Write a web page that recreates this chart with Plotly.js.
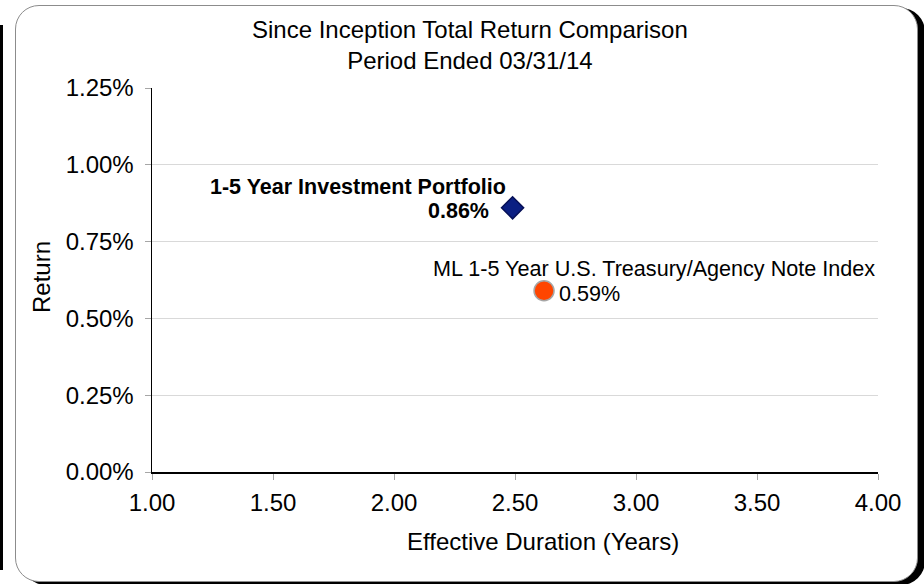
<!DOCTYPE html>
<html>
<head>
<meta charset="utf-8">
<script src="https://cdn.plot.ly/plotly-3.0.1.min.js"></script>
<style>
    body { margin: 0; background: #fff; }
    #wrap { position: relative; width: 924px; height: 584px; overflow: hidden; }
    #edge { position: absolute; left: 0; top: 25px; width: 3px; height: 545px; background: #000; }
    #frame {
        position: absolute; left: 15px; top: 5px; width: 901px; height: 575px;
        border: 1px solid #8c8c8c; border-radius: 24px; background: #fff;
        box-shadow: 7px 3px 0 0 #000;
    }
    #chart { position: absolute; left: 0; top: 0; width: 924px; height: 584px; }
</style>
</head>
<body>
<div id="wrap">
    <div id="edge"></div>
    <div id="frame"></div>
    <div id="chart"></div>
</div>
<script>
// Data
const seriesNames = ['1-5 Year Investment Portfolio', 'ML 1-5 Year U.S. Treasury/Agency Note Index'];
const durations = [2.49, 2.62]; // years
const returns = [0.0086, 0.0059];
const markerSymbols = ['diamond', 'circle'];
const markerColors = ['#0b1f82', '#ff4500'];
const titleLines = ['Since Inception Total Return Comparison', 'Period Ended 03/31/14'];
const xTitle = 'Effective Duration (Years)';
const yTitle = 'Return';

const FONT = 'Arial, "Liberation Sans", sans-serif';
const pct = v => (v * 100).toFixed(2) + '%';

// One trace per series
let data = seriesNames.map((name, i) => ({
    x: [durations[i]],
    y: [returns[i]],
    name: name,
    type: 'scatter',
    mode: 'markers',
    marker: {
        symbol: markerSymbols[i],
        size: i === 0 ? 17 : 20,
        color: markerColors[i],
        line: {color: i === 0 ? '#061057' : '#a6a6a6', width: 1.5}
    },
    showlegend: false
}));

let annotations = [
    // chart title, two lines
    {xref: 'paper', yref: 'paper', x: (470 - 152) / 726, y: (472 - 45) / 384,
        text: titleLines.join('<br>'), font: {size: 24}},
    // axis titles
    {xref: 'paper', yref: 'paper', x: (543 - 152) / 726, y: (472 - 541) / 384, text: xTitle},
    {xref: 'paper', yref: 'paper', x: (41 - 152) / 726, y: (472 - 277) / 384, text: yTitle, textangle: -90},
    // point labels
    {x: durations[0], y: returns[0], text: '<b>' + seriesNames[0] + '</b>',
        xanchor: 'right', xshift: -5, yshift: 21, font: {size: 21.5}},
    {x: durations[0], y: returns[0], text: '<b>' + pct(returns[0]) + '</b>',
        xanchor: 'right', xshift: -22, yshift: -3, font: {size: 21.5}},
    {x: durations[1], y: returns[1], text: seriesNames[1],
        xanchor: 'left', xshift: -113, yshift: 22, font: {size: 21.6}},
    {x: durations[1], y: returns[1], text: pct(returns[1]),
        xanchor: 'left', xshift: 13, yshift: -3, font: {size: 21.6}}
].map(a => Object.assign({showarrow: false, yanchor: 'middle', xanchor: 'center'}, a,
    {font: Object.assign({family: FONT, color: '#000', size: 24}, a.font)}));

let layout = {
    width: 924,
    height: 584,
    margin: {l: 152, r: 46, t: 88, b: 112},
    paper_bgcolor: 'rgba(0,0,0,0)',
    plot_bgcolor: 'rgba(0,0,0,0)',
    font: {family: FONT, color: '#000', size: 24},
    showlegend: false,
    xaxis: {
        range: [1, 4],
        tick0: 1,
        dtick: 0.5,
        tickformat: '.2f',
        showgrid: false,
        zeroline: false,
        showline: true,
        linecolor: '#000',
        linewidth: 1.5,
        ticks: 'outside',
        ticklen: 6,
        tickcolor: '#a6a6a6',
        tickfont: {size: 24},
        ticklabelstandoff: 3
    },
    yaxis: {
        range: [0, 0.0125],
        tick0: 0,
        dtick: 0.0025,
        tickformat: '.2%',
        showgrid: true,
        gridcolor: '#d9d9d9',
        zeroline: false,
        showline: true,
        linecolor: '#000',
        linewidth: 1.5,
        ticks: 'outside',
        ticklen: 6,
        tickcolor: '#a6a6a6',
        tickfont: {size: 24},
        ticklabelstandoff: 6
    },
    annotations: annotations
};

let config = {
    staticPlot: true,
    displayModeBar: false
};

Plotly.newPlot('chart', data, layout, config);
</script>
</body>
</html>
